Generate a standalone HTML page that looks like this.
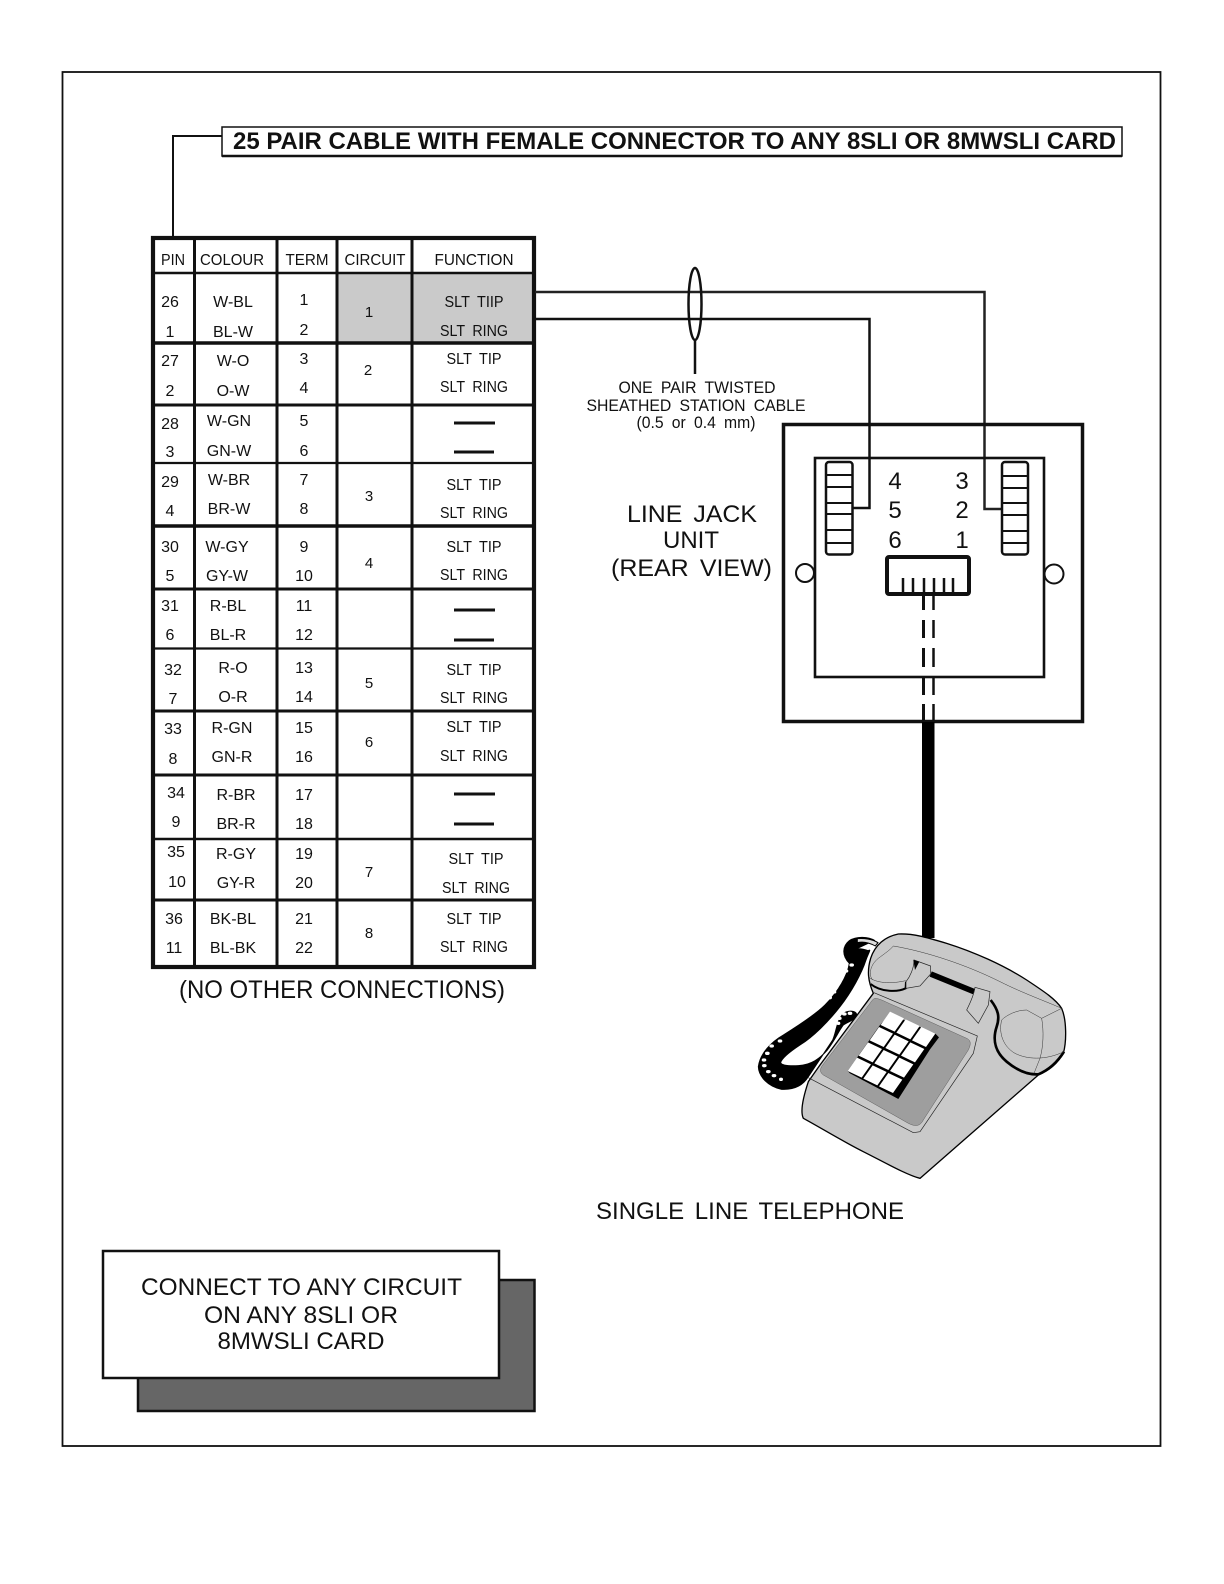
<!DOCTYPE html>
<html><head><meta charset="utf-8"><style>
html,body{margin:0;padding:0;background:#fff}
svg{display:block}
text{font-family:"Liberation Sans",Arial,sans-serif;fill:#111}
.t{font-size:16px;text-anchor:middle}
.c{font-size:15px;text-anchor:middle}
.f{font-size:16px;text-anchor:middle;word-spacing:4px}
.l{font-size:24px;text-anchor:middle;word-spacing:4px}
.s{font-size:16.5px;text-anchor:middle;word-spacing:4px}
.n{font-size:24px;text-anchor:middle}
</style></head><body>
<svg width="1224" height="1584" viewBox="0 0 1224 1584" xmlns="http://www.w3.org/2000/svg">
<rect width="1224" height="1584" fill="#fff"/>
<rect x="62.5" y="72" width="1098" height="1374" fill="none" stroke="#111" stroke-width="1.8"/>

<!-- title -->
<path d="M222 136H173V238" fill="none" stroke="#111" stroke-width="2"/>
<rect x="222" y="127" width="900" height="29" fill="#fff" stroke="#111" stroke-width="1.5"/>
<path d="M222 156H1122" stroke="#111" stroke-width="2.5"/>
<text x="233" y="149" font-size="24" font-weight="700" textLength="883" lengthAdjust="spacingAndGlyphs">25 PAIR CABLE WITH FEMALE CONNECTOR TO ANY 8SLI OR 8MWSLI CARD</text>

<!-- table -->
<rect x="337" y="274" width="196" height="68" fill="#cacaca"/>
<g stroke="#111" fill="none">
<path d="M194.5 238V967M277 238V967M337 238V967M412 238V967" stroke-width="3"/>
<path d="M153 273H534" stroke-width="2.5"/>
<path d="M153 343H534" stroke-width="3.5"/>
<path d="M153 405H534" stroke-width="3"/>
<path d="M153 463H534" stroke-width="2.2"/>
<path d="M153 526H534" stroke-width="3.5"/>
<path d="M153 589H534" stroke-width="3"/>
<path d="M153 648.500H534" stroke-width="2.2"/>
<path d="M153 711H534" stroke-width="3"/>
<path d="M153 775H534" stroke-width="3"/>
<path d="M153 839H534" stroke-width="2.5"/>
<path d="M153 900H534" stroke-width="3"/>
<rect x="153" y="238" width="381" height="729" stroke-width="4.200"/>
<path d="M454 423H495M454 452H494M454 610H495M454 640H494M454 794H495M454 824H494" stroke-width="3"/>
</g>
<g class="hd">
<text class="t" x="173" y="265" textLength="24" lengthAdjust="spacingAndGlyphs">PIN</text>
<text class="t" x="232" y="265" textLength="64" lengthAdjust="spacingAndGlyphs">COLOUR</text>
<text class="t" x="307" y="265" textLength="43" lengthAdjust="spacingAndGlyphs">TERM</text>
<text class="t" x="375" y="265" textLength="61" lengthAdjust="spacingAndGlyphs">CIRCUIT</text>
<text class="t" x="474" y="265" textLength="79" lengthAdjust="spacingAndGlyphs">FUNCTION</text>
</g>
<!-- pins -->
<g>
<text class="t" x="170" y="307">26</text><text class="t" x="170" y="337">1</text>
<text class="t" x="170" y="366">27</text><text class="t" x="170" y="396">2</text>
<text class="t" x="170" y="429">28</text><text class="t" x="170" y="457">3</text>
<text class="t" x="170" y="487">29</text><text class="t" x="170" y="516">4</text>
<text class="t" x="170" y="552">30</text><text class="t" x="170" y="581">5</text>
<text class="t" x="170" y="611">31</text><text class="t" x="170" y="640">6</text>
<text class="t" x="173" y="675">32</text><text class="t" x="173" y="704">7</text>
<text class="t" x="173" y="734">33</text><text class="t" x="173" y="764">8</text>
<text class="t" x="176" y="798">34</text><text class="t" x="176" y="827">9</text>
<text class="t" x="176" y="857">35</text><text class="t" x="177" y="887">10</text>
<text class="t" x="174" y="924">36</text><text class="t" x="174" y="953">11</text>
</g>
<!-- colours -->
<g>
<text class="t" x="233" y="307">W-BL</text><text class="t" x="233" y="337">BL-W</text>
<text class="t" x="233" y="366">W-O</text><text class="t" x="233" y="396">O-W</text>
<text class="t" x="229" y="426">W-GN</text><text class="t" x="229" y="456">GN-W</text>
<text class="t" x="229" y="485">W-BR</text><text class="t" x="229" y="514">BR-W</text>
<text class="t" x="227" y="552">W-GY</text><text class="t" x="227" y="581">GY-W</text>
<text class="t" x="228" y="611">R-BL</text><text class="t" x="228" y="640">BL-R</text>
<text class="t" x="233" y="673">R-O</text><text class="t" x="233" y="702">O-R</text>
<text class="t" x="232" y="733">R-GN</text><text class="t" x="232" y="762">GN-R</text>
<text class="t" x="236" y="800">R-BR</text><text class="t" x="236" y="829">BR-R</text>
<text class="t" x="236" y="859">R-GY</text><text class="t" x="236" y="888">GY-R</text>
<text class="t" x="233" y="924">BK-BL</text><text class="t" x="233" y="953">BL-BK</text>
</g>
<!-- terms -->
<g>
<text class="t" x="304" y="305">1</text><text class="t" x="304" y="335">2</text>
<text class="t" x="304" y="364">3</text><text class="t" x="304" y="393">4</text>
<text class="t" x="304" y="426">5</text><text class="t" x="304" y="456">6</text>
<text class="t" x="304" y="485">7</text><text class="t" x="304" y="514">8</text>
<text class="t" x="304" y="552">9</text><text class="t" x="304" y="581">10</text>
<text class="t" x="304" y="611">11</text><text class="t" x="304" y="640">12</text>
<text class="t" x="304" y="673">13</text><text class="t" x="304" y="702">14</text>
<text class="t" x="304" y="733">15</text><text class="t" x="304" y="762">16</text>
<text class="t" x="304" y="800">17</text><text class="t" x="304" y="829">18</text>
<text class="t" x="304" y="859">19</text><text class="t" x="304" y="888">20</text>
<text class="t" x="304" y="924">21</text><text class="t" x="304" y="953">22</text>
</g>
<!-- circuits -->
<g>
<text class="c" x="369" y="317">1</text>
<text class="c" x="368" y="375">2</text>
<text class="c" x="369" y="501">3</text>
<text class="c" x="369" y="568">4</text>
<text class="c" x="369" y="688">5</text>
<text class="c" x="369" y="747">6</text>
<text class="c" x="369" y="877">7</text>
<text class="c" x="369" y="938">8</text>
</g>
<!-- functions -->
<g>
<text class="f" x="474" y="307" textLength="59" lengthAdjust="spacingAndGlyphs">SLT TIIP</text><text class="f" x="474" y="336" textLength="68" lengthAdjust="spacingAndGlyphs">SLT RING</text>
<text class="f" x="474" y="364" textLength="55" lengthAdjust="spacingAndGlyphs">SLT TIP</text><text class="f" x="474" y="392" textLength="68" lengthAdjust="spacingAndGlyphs">SLT RING</text>
<text class="f" x="474" y="490" textLength="55" lengthAdjust="spacingAndGlyphs">SLT TIP</text><text class="f" x="474" y="518" textLength="68" lengthAdjust="spacingAndGlyphs">SLT RING</text>
<text class="f" x="474" y="552" textLength="55" lengthAdjust="spacingAndGlyphs">SLT TIP</text><text class="f" x="474" y="580" textLength="68" lengthAdjust="spacingAndGlyphs">SLT RING</text>
<text class="f" x="474" y="675" textLength="55" lengthAdjust="spacingAndGlyphs">SLT TIP</text><text class="f" x="474" y="703" textLength="68" lengthAdjust="spacingAndGlyphs">SLT RING</text>
<text class="f" x="474" y="732" textLength="55" lengthAdjust="spacingAndGlyphs">SLT TIP</text><text class="f" x="474" y="761" textLength="68" lengthAdjust="spacingAndGlyphs">SLT RING</text>
<text class="f" x="476" y="864" textLength="55" lengthAdjust="spacingAndGlyphs">SLT TIP</text><text class="f" x="476" y="893" textLength="68" lengthAdjust="spacingAndGlyphs">SLT RING</text>
<text class="f" x="474" y="924" textLength="55" lengthAdjust="spacingAndGlyphs">SLT TIP</text><text class="f" x="474" y="952" textLength="68" lengthAdjust="spacingAndGlyphs">SLT RING</text>
</g>
<text x="179" y="998" font-size="25" textLength="326" lengthAdjust="spacingAndGlyphs">(NO OTHER CONNECTIONS)</text>

<!-- wires -->
<path d="M535 292H984.500V509H1003" fill="none" stroke="#222" stroke-width="2.500"/>
<path d="M535 319H869.500V508H853" fill="none" stroke="#111" stroke-width="2.500"/>
<ellipse cx="695" cy="304" rx="6.500" ry="36" fill="none" stroke="#111" stroke-width="2.500"/>
<path d="M695 340V374" stroke="#111" stroke-width="2.500"/>
<text class="s" x="697" y="393" textLength="157" lengthAdjust="spacingAndGlyphs">ONE PAIR TWISTED</text>
<text class="s" x="696" y="411" textLength="219" lengthAdjust="spacingAndGlyphs">SHEATHED STATION CABLE</text>
<text class="s" x="696" y="428" textLength="119" lengthAdjust="spacingAndGlyphs">(0.5 or 0.4 mm)</text>

<text class="l" x="692" y="522" textLength="130" lengthAdjust="spacingAndGlyphs">LINE JACK</text>
<text class="l" x="691" y="548" textLength="56" lengthAdjust="spacingAndGlyphs">UNIT</text>
<text class="l" x="691.500" y="576" textLength="161" lengthAdjust="spacingAndGlyphs">(REAR VIEW)</text>

<!-- jack -->
<g fill="none" stroke="#111">
<rect x="783.500" y="424.500" width="299" height="297" stroke-width="3.500"/>
<rect x="815" y="458" width="229" height="219" stroke-width="2.600"/>
<rect x="826" y="462" width="26.500" height="92.500" rx="3" stroke-width="2.500"/>
<rect x="1002" y="462" width="26" height="92.500" rx="3" stroke-width="2.500"/>
<path d="M826 475H853M826 487H853M826 503H853M826 514H853M826 530H853M826 543H853" stroke-width="2"/>
<path d="M1002 476H1028M1002 488H1028M1002 503H1028M1002 515H1028M1002 531H1028M1002 543H1028" stroke-width="2"/>
<rect x="887" y="557" width="82" height="37" rx="2" stroke-width="4"/>
<path d="M903 578V594M913 578V594M924 578V594M934 578V594M944 578V594M953 578V594" stroke-width="2.500"/>
<path d="M923.500 594V610M923.500 620V638M923.500 648V667M923.500 678V695M923.500 704V722" stroke-width="3"/>
<path d="M933.500 594V610M933.500 620V638M933.500 648V667M933.500 678V695M933.500 704V722" stroke-width="2.500"/>
<circle cx="805" cy="573" r="9" fill="#fff" stroke-width="2"/>
<circle cx="1054" cy="574" r="9.500" fill="#fff" stroke-width="2"/>
</g>
<text class="n" x="895" y="489">4</text><text class="n" x="895" y="518">5</text><text class="n" x="895" y="548">6</text>
<text class="n" x="962" y="489">3</text><text class="n" x="962" y="518">2</text><text class="n" x="962" y="548">1</text>
<rect x="922" y="722" width="12.500" height="216" fill="#000"/>

<!-- telephone -->
<g transform="translate(740 910) scale(.33333)">
<path d="M405 92C385 80 350 78 328 92C308 108 304 135 328 160C322 200 290 250 255 285C225 315 170 350 130 375C95 395 60 430 55 470C56 500 85 530 125 538C165 540 190 525 205 500C225 470 255 425 278 390C290 365 290 320 318 306C335 300 350 305 350 315C345 330 325 335 310 345C295 365 285 390 262 420C240 445 215 465 175 467C150 468 125 468 122 458C125 445 150 425 180 405C220 380 265 335 300 290C335 245 365 190 378 150C385 130 395 115 385 122C365 115 345 112 335 125" fill="#000" stroke="#000" stroke-width="3" stroke-linejoin="round"/>
<path d="M352 86C372 84 398 88 414 98L406 108C388 98 368 94 352 98Z" fill="#ddd" stroke="#000" stroke-width="3"/>
<g fill="#fff">
<ellipse cx="335" cy="165" rx="7" ry="5"/><ellipse cx="318" cy="183" rx="7" ry="5"/><ellipse cx="305" cy="200" rx="7" ry="5"/><ellipse cx="297" cy="217" rx="7" ry="5"/><ellipse cx="288" cy="232" rx="7" ry="5"/><ellipse cx="282" cy="246" rx="7" ry="5"/><ellipse cx="270" cy="263" rx="6" ry="5"/>
<ellipse cx="120" cy="393" rx="7" ry="5"/><ellipse cx="95" cy="408" rx="7" ry="5"/><ellipse cx="82" cy="430" rx="7" ry="5"/><ellipse cx="72" cy="450" rx="7" ry="5"/><ellipse cx="73" cy="467" rx="7" ry="5"/><ellipse cx="85" cy="485" rx="7" ry="5"/><ellipse cx="102" cy="497" rx="7" ry="5"/><ellipse cx="123" cy="508" rx="6" ry="5"/>
<ellipse cx="330" cy="310" rx="7" ry="5"/><ellipse cx="313" cy="312" rx="7" ry="5"/><ellipse cx="298" cy="325" rx="7" ry="5"/><ellipse cx="295" cy="340" rx="6" ry="5"/>
</g>
<path d="M400 250C385 215 380 185 392 145C405 105 435 80 475 72C520 70 560 82 620 100C700 125 790 165 860 210C905 240 945 265 965 295C980 330 980 395 970 430C950 465 920 485 895 495L540 805C500 795 430 755 370 725C310 695 245 655 190 625C180 605 190 560 205 515L240 465Z" fill="#c9c9c9" stroke="#000" stroke-width="4" stroke-linejoin="round"/>
<path d="M402 248L712 378L700 430L540 665L520 668L205 503" fill="none" stroke="#222" stroke-width="2"/>
<path d="M405 265C420 265 440 278 470 290L680 385C695 392 692 405 685 420L550 630C540 650 525 650 505 640L250 495C240 488 238 478 248 465L390 280C395 272 400 266 405 265Z" fill="#9e9e9e" stroke="#333" stroke-width="1"/>
<!-- keys -->
<polygon points="450,312 586,371 597,382 570,418 475,567 330,490 323,483 420,345" fill="#000"/>
<g fill="#fff">
<polygon points="450,305 492,325 464,365 422,345"/>
<polygon points="497,328 539,348 511,388 469,368"/>
<polygon points="544,351 586,371 558,411 516,391"/>
<polygon points="417,351 459,371 431,411 389,391"/>
<polygon points="464,374 506,394 478,434 436,414"/>
<polygon points="511,397 553,417 525,457 483,437"/>
<polygon points="384,397 426,417 398,457 356,437"/>
<polygon points="431,420 473,440 445,480 403,460"/>
<polygon points="478,443 520,463 492,503 450,483"/>
<polygon points="351,443 393,463 365,503 323,483"/>
<polygon points="398,466 440,486 412,526 370,506"/>
<polygon points="445,489 487,509 459,549 417,529"/>
</g>
<!-- handset -->
<path d="M398 210C385 195 390 165 415 145C435 130 450 120 460 108" fill="none" stroke="#333" stroke-width="1.500"/>
<path d="M460 108C560 125 680 165 780 215C850 250 920 275 965 295" fill="none" stroke="#333" stroke-width="1.500"/>
<path d="M385 200C400 215 440 225 497 212" fill="none" stroke="#333" stroke-width="1.500"/>
<path d="M392 222C420 245 470 248 497 235L498 215" fill="none" stroke="#000" stroke-width="6"/>
<path d="M572 192L702 245" stroke="#000" stroke-width="17"/>
<path d="M522 150L572 168L572 192L540 228L498 235L498 215C510 200 522 175 522 150Z" fill="#c9c9c9" stroke="#222" stroke-width="2"/>
<path d="M520 150L538 155L525 180Z" fill="#000"/>
<path d="M705 232L750 245L745 285L715 340L680 300C690 280 702 255 705 232Z" fill="#c9c9c9" stroke="#222" stroke-width="2"/>
<path d="M752 270C775 300 780 320 770 350C755 395 770 430 800 455C830 480 860 495 895 493C925 480 950 460 972 425" fill="none" stroke="#000" stroke-width="8"/>
<path d="M785 330C800 315 830 300 860 300L905 325L965 295M905 325C912 365 910 410 900 445L882 490M785 330C775 370 790 410 825 430C860 448 915 452 972 425" fill="none" stroke="#333" stroke-width="1.500"/>
</g>

<text class="l" x="750" y="1219" textLength="308" lengthAdjust="spacingAndGlyphs">SINGLE LINE TELEPHONE</text>

<!-- note -->
<rect x="138" y="1280" width="396.500" height="131" fill="#666" stroke="#111" stroke-width="2.500"/>
<rect x="103" y="1251" width="396" height="127" fill="#fff" stroke="#111" stroke-width="2.500"/>
<text class="l" x="301.500" y="1295" textLength="321" lengthAdjust="spacingAndGlyphs" style="word-spacing:0">CONNECT TO ANY CIRCUIT</text>
<text class="l" x="301" y="1323" textLength="194" lengthAdjust="spacingAndGlyphs" style="word-spacing:0">ON ANY 8SLI OR</text>
<text class="l" x="301" y="1349" textLength="167" lengthAdjust="spacingAndGlyphs" style="word-spacing:0">8MWSLI CARD</text>
</svg>
</body></html>
